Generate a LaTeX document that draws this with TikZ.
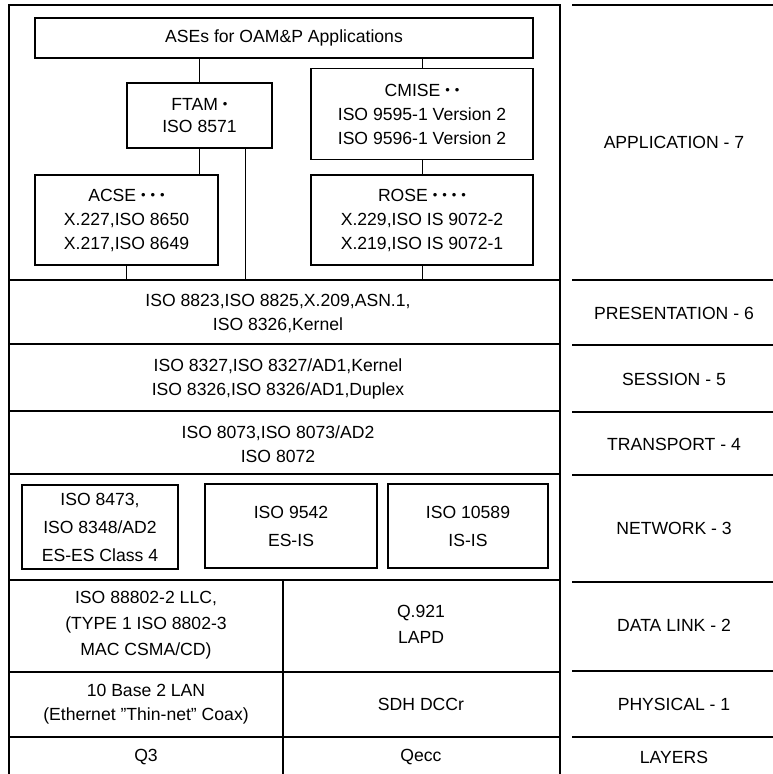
\documentclass[tikz,border=0pt]{standalone}
\usepackage{fontspec}
\setmainfont{Liberation Sans}
\begin{document}
\begin{tikzpicture}[x=1pt,y=-1pt,
  frame/.style={line width=1.3pt},
  rowline/.style={line width=1.7pt},
  box/.style={draw, line width=1.3pt, inner sep=0pt, align=center, font=\fs},
  thickbox/.style={box, line width=2.2pt},
  conn/.style={line width=0.9pt},
  txt/.style={align=center, inner sep=0pt, font=\fs},
]
\newcommand{\fs}{\fontsize{17.6}{24}\selectfont}
\newcommand{\dt}{{\fontsize{13}{13}\selectfont\raisebox{1.5pt}{•}}}
\newcommand{\gap}{\hspace{5pt}}
\useasboundingbox (0,0) rectangle (773,774);
\fill[white] (0,0) rectangle (773,774);

% outer frame of left column
\draw[frame] (9,774) -- (9,5) -- (560,5) -- (560,774);
% row lines in left column
\foreach \y in {280,344,411,474,580,672,737}
  \draw[rowline] (9,\y) -- (560,\y);
% vertical divider for data link / physical / layers
\draw[frame] (283,580) -- (283,774);
% right column lines
\foreach \y in {5,280,345,412,475,582,671,737}
  \draw[rowline] (572,\y) -- (773,\y);

% application layer boxes
\node[box, minimum width=498pt, minimum height=40pt] (ases) at (284,38) {ASEs for OAM\&P Applications};
\node[box, minimum width=145pt, minimum height=65pt, font=\fontsize{17.6}{22}\selectfont] (ftam) at (199.5,115.5) {FTAM \dt\\ISO 8571};
\node[box, minimum width=222pt, minimum height=91pt] (cmise) at (422,114) {CMISE \dt\gap\dt\\ISO 9595-1 Version 2\\ISO 9596-1 Version 2};
\node[box, minimum width=183pt, minimum height=90pt] (acse) at (126.5,220) {ACSE \dt\gap\dt\gap\dt\\X.227,ISO 8650\\X.217,ISO 8649};
\node[box, minimum width=222pt, minimum height=90pt] (rose) at (422,220) {ROSE \dt\gap\dt\gap\dt\gap\dt\\X.229,ISO IS 9072-2\\X.219,ISO IS 9072-1};

\coordinate (acseout) at (126.5,280);
\coordinate (ftamout) at (245,280);
\coordinate (roseout) at (422,280);

\draw[conn] (ases.south -| ftam.north) -- (ftam.north);
\draw[conn] (ases.south -| cmise.north) -- (cmise.north);
\draw[conn] (cmise.south) -- (rose.north);
\draw[conn] (ftam.south) -- (ftam.south |- acse.north);
\draw[conn] (acse.south) -- (acseout);
\draw[conn] (ftam.south -| ftamout) -- (ftamout);
\draw[conn] (rose.south) -- (roseout);

% presentation, session, transport
\node[txt] (pres) at (278,313) {ISO 8823,ISO 8825,X.209,ASN.1,\\ISO 8326,Kernel};
\node[txt] (sess) at (278,379) {ISO 8327,ISO 8327/AD1,Kernel\\ISO 8326,ISO 8326/AD1,Duplex};
\node[txt] (trans) at (278,444) {ISO 8073,ISO 8073/AD2\\ISO 8072};

% network boxes
\node[thickbox, minimum width=156pt, minimum height=84pt, font=\fontsize{17.6}{28}\selectfont] (net1) at (100,527) {ISO 8473,\\ISO 8348/AD2\\ES-ES Class 4};
\node[box, minimum width=172pt, minimum height=84pt, font=\fontsize{17.6}{28}\selectfont] (net2) at (291,526) {ISO 9542\\ES-IS};
\node[box, minimum width=160pt, minimum height=84pt, font=\fontsize{17.6}{28}\selectfont] (net3) at (468,526) {ISO 10589\\IS-IS};

% data link
\node[txt, font=\fontsize{17.6}{26}\selectfont] (dl1) at (146,625) {ISO 88802-2 LLC,\\(TYPE 1 ISO 8802-3\\MAC CSMA/CD)};
\node[txt, font=\fontsize{17.6}{26}\selectfont] (dl2) at (421,624) {Q.921\\LAPD};

% physical
\node[txt] (ph1) at (146,704) {10 Base 2 LAN\\(Ethernet \symbol{34}Thin-net\symbol{34} Coax)};
\node[txt] (ph2) at (421,704) {SDH DCCr};

% bottom row
\node[txt] (q3) at (146,757) {Q3};
\node[txt] (qecc) at (421,757) {Qecc};

% right column labels
\node[txt] (l7) at (674,142) {APPLICATION - 7};
\node[txt] (l6) at (674,313) {PRESENTATION - 6};
\node[txt] (l5) at (674,379) {SESSION - 5};
\node[txt] (l4) at (674,444) {TRANSPORT - 4};
\node[txt] (l3) at (674,528) {NETWORK - 3};
\node[txt] (l2) at (674,625) {DATA LINK - 2};
\node[txt] (l1) at (674,704) {PHYSICAL - 1};
\node[txt] (l0) at (674,757) {LAYERS};
\end{tikzpicture}
\end{document}
